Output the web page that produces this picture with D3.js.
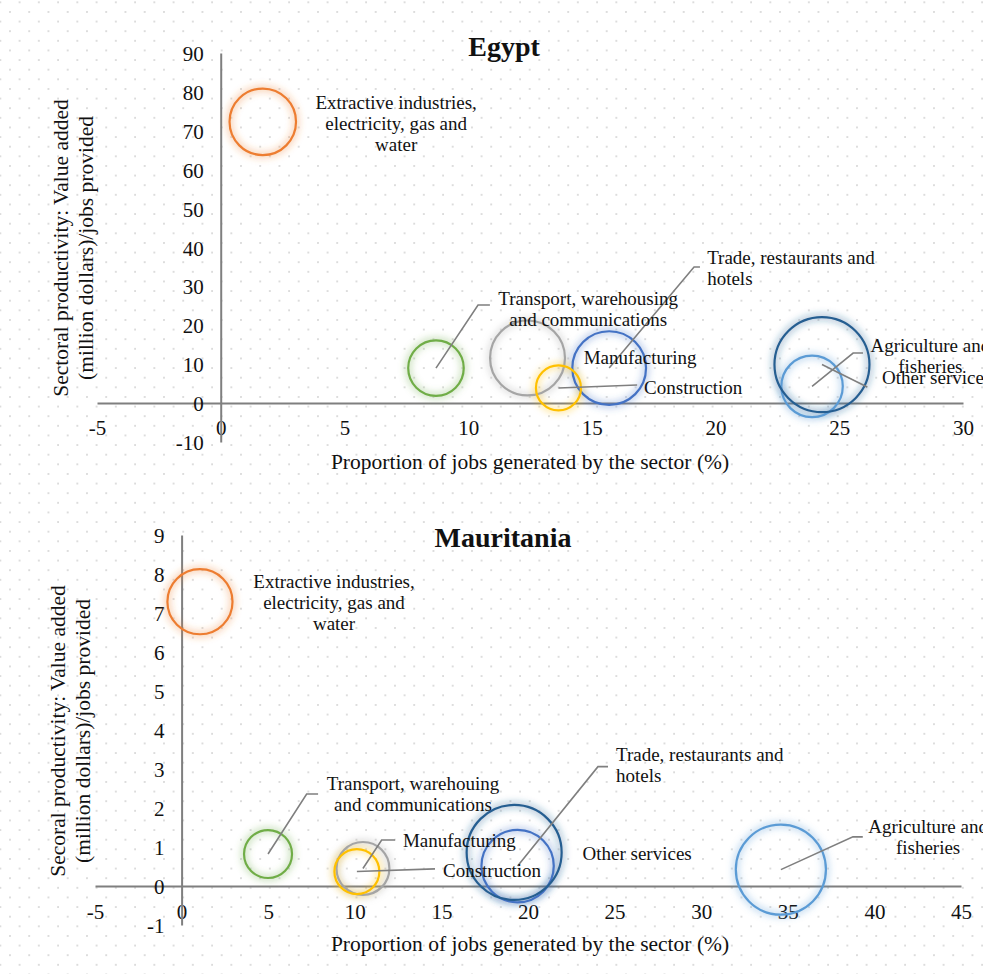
<!DOCTYPE html>
<html>
<head>
<meta charset="utf-8">
<script src="https://cdn.jsdelivr.net/npm/d3@7"></script>
<style>
html,body{margin:0;padding:0;background:#fff;overflow:hidden;}
svg{display:block;}
text{font-family:"Liberation Serif","Times New Roman",serif;fill:#111;}
</style>
</head>
<body>
<svg id="chart" width="983" height="974"></svg>
<script>
// ---------- DATA ----------
const sectors = [
  "Trade, restaurants and hotels",
  "Extractive industries, electricity, gas and water",
  "Manufacturing",
  "Construction",
  "Agriculture and fisheries",
  "Transport, warehousing and communications",
  "Other services"
];
// Egypt: proportion of jobs (%), productivity, bubble size
const egyptJobs         = [15.7, 1.7, 12.4, 13.65, 23.9, 8.7, 24.3];
const egyptProductivity = [9.0, 72.3, 11.6, 3.9, 4.3, 9.0, 9.9];
const egyptSize         = [59, 48, 61, 22, 41, 33.5, 98];
// Mauritania
const mauritaniaJobs         = [19.4, 1.06, 10.47, 10.12, 34.6, 4.99, 19.2];
const mauritaniaProductivity = [0.51, 7.29, 0.45, 0.37, 0.42, 0.82, 0.86];
const mauritaniaSize         = [58, 47, 31, 22.4, 90, 25.5, 100];

const egyptXTicks = [-5, 0, 5, 10, 15, 20, 25, 30];
const egyptYTicks = [-10, 0, 10, 20, 30, 40, 50, 60, 70, 80, 90];
const mauritaniaXTicks = [-5, 0, 5, 10, 15, 20, 25, 30, 35, 40, 45];
const mauritaniaYTicks = [-1, 0, 1, 2, 3, 4, 5, 6, 7, 8, 9];

// ---------- STYLE ----------
const seriesColors = ["#4472C4", "#ED7D31", "#A5A5A5", "#FFC000", "#5B9BD5", "#70AD47", "#255E91"];

// ---------- LABEL LAYOUT (data coordinates) ----------
const egyptLabels = [
  {i:0, lines:["Trade, restaurants and","hotels"], x:19.66, y:37.5, anchor:"start", leader:[[19.13,35.0],[19.37,35.0]]},
  {i:1, lines:["Extractive industries,","electricity, gas and","water"], x:7.09, y:77.4, anchor:"middle"},
  {i:2, lines:["Manufacturing"], x:16.95, y:11.85, anchor:"middle"},
  {i:3, lines:["Construction"], x:17.11, y:4.0, anchor:"start", leader:[[16.83,4.65]]},
  {i:4, lines:["Agriculture and","fisheries"], x:28.68, y:14.9, anchor:"middle", leader:[[25.56,12.87],[25.96,12.87]]},
  {i:5, lines:["Transport, warehousing","and communications"], x:14.85, y:27.0, anchor:"middle", leader:[[10.4,25.2],[10.88,25.2]]},
  {i:6, lines:["Other services"], x:26.73, y:6.7, anchor:"start", leader:[[26.13,4.14]]}
];
const mauritaniaLabels = [
  {i:0, lines:["Trade, restaurants and","hotels"], x:25.08, y:3.38, anchor:"start", leader:[[24.04,3.06],[24.62,3.06]]},
  {i:1, lines:["Extractive industries,","electricity, gas and","water"], x:8.80, y:7.80, anchor:"middle"},
  {i:2, lines:["Manufacturing"], x:12.78, y:1.18, anchor:"start", leader:[[11.55,1.18],[12.32,1.18]]},
  {i:3, lines:["Construction"], x:15.09, y:0.41, anchor:"start", leader:[[14.63,0.44]]},
  {i:4, lines:["Agriculture and","fisheries"], x:43.1, y:1.54, anchor:"middle", leader:[[38.76,1.26],[39.33,1.26]]},
  {i:5, lines:["Transport, warehouing","and communications"], x:13.36, y:2.62, anchor:"middle", leader:[[7.22,2.36],[7.88,2.36]]},
  {i:6, lines:["Other services"], x:26.3, y:0.85, anchor:"middle"}
];

// ---------- DRAW ----------
const svg = d3.select("#chart");
const defs = svg.append("defs");
const pat = defs.append("pattern").attr("id","dots").attr("patternUnits","userSpaceOnUse")
  .attr("x",-0.65).attr("y",1.35).attr("width",19.25).attr("height",19.25);
pat.append("circle").attr("cx",1).attr("cy",1).attr("r",0.95).attr("fill","#cfcfcf");
pat.append("circle").attr("cx",10.62).attr("cy",10.62).attr("r",0.95).attr("fill","#cfcfcf");
defs.append("filter").attr("id","glow").attr("x","-30%").attr("y","-30%").attr("width","160%").attr("height","160%")
  .append("feGaussianBlur").attr("stdDeviation",3.2);

svg.append("rect").attr("width",983).attr("height",974).attr("fill","#fff");
svg.append("rect").attr("width",983).attr("height",974).attr("fill","url(#dots)");

const fmt = d => String(d);

function drawChart(cfg){
  const g = svg.append("g");
  const x = d3.scaleLinear().domain(cfg.xDomain).range(cfg.xRange);
  const y = d3.scaleLinear().domain(cfg.yDomain).range(cfg.yRange);
  const r = d3.scaleSqrt().domain([0, d3.max(cfg.size)]).range([0, 47.5]);

  // x axis at y=0
  const xa = g.append("g").attr("transform",`translate(0,${y(0)})`)
    .call(d3.axisBottom(x).tickValues(cfg.xTicks).tickSize(0).tickSizeOuter(0).tickPadding(cfg.xPad).tickFormat(fmt));
  // y axis at x=0
  const ya = g.append("g").attr("transform",`translate(${x(0)},0)`)
    .call(d3.axisLeft(y).tickValues(cfg.yTicks).tickSize(0).tickSizeOuter(0).tickPadding(17).tickFormat(fmt));
  [xa, ya].forEach(a=>{
    a.select(".domain").attr("stroke","#7f7f7f").attr("stroke-width",2);
    a.selectAll("text").attr("font-family","Liberation Serif").attr("font-size",21).attr("fill","#111");
  });
  ya.selectAll("text").attr("dy","0.36em");

  // bubbles
  const data = cfg.jobs.map((v,i)=>({x:v, y:cfg.prod[i], s:cfg.size[i], c:seriesColors[i], i}));
  const bg = g.append("g");
  bg.selectAll("circle.glow").data(data).join("circle").attr("class","glow")
    .attr("cx",d=>x(d.x)).attr("cy",d=>y(d.y)).attr("r",d=>r(d.s))
    .attr("fill","none").attr("stroke",d=>d.c).attr("stroke-width",8).attr("stroke-opacity",0.28)
    .attr("filter","url(#glow)");
  bg.selectAll("circle.bub").data(data).join("circle").attr("class","bub")
    .attr("cx",d=>x(d.x)).attr("cy",d=>y(d.y)).attr("r",d=>r(d.s))
    .attr("fill","none").attr("stroke",d=>d.c).attr("stroke-width",2.2);

  // labels
  const lg = g.append("g");
  cfg.labels.forEach(l=>{
    if(l.leader){
      const pts = [[cfg.jobs[l.i], cfg.prod[l.i]]].concat(l.leader).map(p=>[x(p[0]), y(p[1])]);
      lg.append("path").attr("d", d3.line()(pts)).attr("fill","none").attr("stroke","#7f7f7f").attr("stroke-width",1.6);
    }
    const t = lg.append("text").attr("x",x(l.x)).attr("y",y(l.y)).attr("text-anchor",l.anchor)
      .attr("font-size",19);
    l.lines.forEach((line,k)=>{
      t.append("tspan").attr("x",x(l.x)).attr("dy", k===0 ? "0.35em" : "21px").text(line);
    });
  });

  // titles
  g.append("text").attr("x",cfg.titleX).attr("y",cfg.titleY).attr("text-anchor","middle")
    .attr("font-size",28).attr("font-weight","bold").attr("dy","0.35em").text(cfg.title);
  g.append("text").attr("x",cfg.xTitleX).attr("y",cfg.xTitleY).attr("text-anchor","middle")
    .attr("font-size",21.5).attr("dy","0.35em").text("Proportion of jobs generated by the sector (%)");
  const yt = g.append("text").attr("transform",`translate(${cfg.yTitleX},${cfg.yTitleY}) rotate(-90)`)
    .attr("text-anchor","middle").attr("font-size",21.5);
  cfg.yTitle.forEach((line,k)=>{
    yt.append("tspan").attr("x",0).attr("y", k*25).attr("dy","0.35em").text(line);
  });
}

drawChart({
  title:"Egypt", titleX:504, titleY:46,
  xDomain:[-5,30], xRange:[97,963], yDomain:[-10,90], yRange:[442,53],
  xTicks:egyptXTicks, yTicks:egyptYTicks, xPad:17,
  jobs:egyptJobs, prod:egyptProductivity, size:egyptSize, labels:egyptLabels,
  xTitleX:530, xTitleY:461,
  yTitle:["Sectoral productivity: Value added","(million dollars)/jobs provided"], yTitleX:60, yTitleY:248
});
drawChart({
  title:"Mauritania", titleX:503, titleY:537,
  xDomain:[-5,45], xRange:[95,961], yDomain:[-1,9], yRange:[925,535],
  xTicks:mauritaniaXTicks, yTicks:mauritaniaYTicks, xPad:18,
  jobs:mauritaniaJobs, prod:mauritaniaProductivity, size:mauritaniaSize, labels:mauritaniaLabels,
  xTitleX:530, xTitleY:943,
  yTitle:["Secoral productivity: Value added","(million dollars)/jobs provided"], yTitleX:57, yTitleY:731
});
</script>
</body>
</html>
